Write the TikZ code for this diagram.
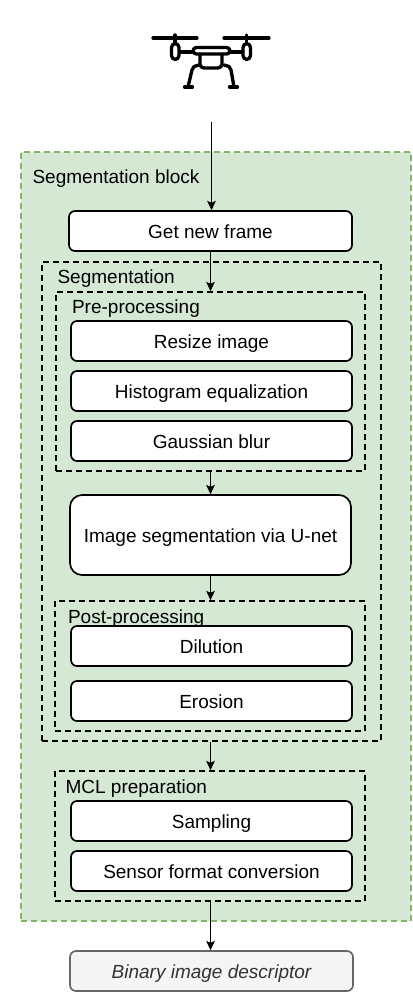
\documentclass[tikz,border=0pt]{standalone}
\usepackage{fontspec}
\setmainfont{Liberation Sans}
\usetikzlibrary{arrows.meta}
\definecolor{gborder}{RGB}{130,179,102}
\definecolor{gfill}{RGB}{213,232,212}
\definecolor{oborder}{RGB}{102,102,102}
\definecolor{ofill}{RGB}{245,245,245}
\definecolor{otext}{RGB}{51,51,51}
\tikzset{
  px/.style={x=0.75pt,y=-0.75pt},
  txt/.style={font=\fontsize{14.25}{16}\selectfont,text=black},
  stepbox/.style={draw=black,fill=white,line width=1.25pt,rounded corners=4.5pt,inner sep=0pt,txt,align=center,text height=11.3pt,text depth=0pt},
  grp/.style={draw=black,line width=1.25pt,dash pattern=on 4.5pt off 3pt,inner sep=0pt},
  outerbox/.style={draw=gborder,fill=gfill,line width=1.25pt,dash pattern=on 4.5pt off 3pt,inner sep=0pt},
  resultbox/.style={draw=oborder,fill=ofill,line width=1.25pt,rounded corners=4.5pt,inner sep=0pt,font=\fontsize{14.25}{16}\selectfont\itshape,text=otext,text height=11.3pt,text depth=0pt},
  conn/.style={draw=black,line width=0.85pt,-{Stealth[length=7pt,width=6.5pt,inset=1.5pt]}},
  lbl/.style={txt,anchor=base west,inner sep=0pt},
  dr/.style={draw=black,line width=2.5pt,line cap=round,line join=round}
}
\newcommand{\bx}[6]{\node[#1,minimum width=#4*0.75pt-#2*0.75pt,minimum height=#5*0.75pt-#3*0.75pt] (#6) at ({(#2+#4)/2},{(#3+#5)/2})}
\begin{document}
\begin{tikzpicture}[px]
\useasboundingbox (0,0) rectangle (412,992);
\bx{outerbox}{21}{152}{411}{921}{block} {};
\bx{grp}{42}{262}{381}{741}{seg} {};
\bx{grp}{56}{292}{365}{471}{pre} {};
\bx{grp}{55}{601}{365}{731}{post} {};
\bx{grp}{55}{771}{365}{901}{mcl} {};
\node[lbl] (lblock) at (32.3,183) {Segmentation block};
\node[lbl] (lseg) at (57.3,283) {Segmentation};
\node[lbl] (lpre) at (71.8,313) {Pre-processing};
\node[lbl] (lpost) at (67.8,623) {Post-processing};
\node[lbl] (lmcl) at (65.3,793.4) {MCL preparation};
\bx{stepbox}{69}{211}{352}{251}{frame} {Get new frame};
\bx{stepbox}{71}{321}{352}{361}{resize} {Resize image};
\bx{stepbox}{71}{371}{352}{411}{hist} {Histogram equalization};
\bx{stepbox}{71}{421}{352}{461}{blur} {Gaussian blur};
\node[stepbox,rounded corners=9pt,minimum width=210.75pt,minimum height=60pt] (unet) at (210.5,535) {Image segmentation via U-net};
\bx{stepbox}{71}{626}{352}{666}{dil} {Dilution};
\bx{stepbox}{71}{681}{352}{721}{ero} {Erosion};
\bx{stepbox}{71}{801}{352}{841}{samp} {Sampling};
\bx{stepbox}{71}{851}{352}{891}{sens} {Sensor format conversion};
\bx{resultbox}{70}{951}{353}{991}{desc} {Binary image descriptor};
\coordinate (src) at (211.5,122);
\draw[conn] (src) -- (src |- frame.north);
\draw[conn] (frame.south) -- (frame.south |- pre.north);
\draw[conn] (pre.south -| unet) -- (unet.north);
\draw[conn] (unet.south) -- (unet |- post.north);
\draw[conn] (unet |- seg.south) -- (unet |- mcl.north);
\draw[conn] (unet |- mcl.south) -- (unet |- desc.north);
% drone
\draw[dr] (153,38) -- (197,38) (224,38) -- (269,38);
\draw[dr] (175,35) -- (175,43) (246.5,35) -- (246.5,43);
\draw[dr,rounded corners=3pt] (171.5,43.5) rectangle (179,59.5);
\draw[dr,rounded corners=3pt] (243,43.5) rectangle (250.5,59.5);
\draw[dr] (180,52) -- (192,52) (231,52) -- (243,52);
\draw[dr,rounded corners=2.5pt] (193,47.5) rectangle (230,54);
\draw[dr,rounded corners=3pt] (200,54) -- (200,68) -- (222,68) -- (222,54);
\draw[dr] (199,65) -- (194,66.5) -- (192,70) -- (188,87);
\draw[dr] (224,65) -- (229,66.5) -- (231,70) -- (234,87);
\draw[dr] (184.5,87) -- (192.5,87) (229.5,87) -- (237.5,87);
\end{tikzpicture}
\end{document}
